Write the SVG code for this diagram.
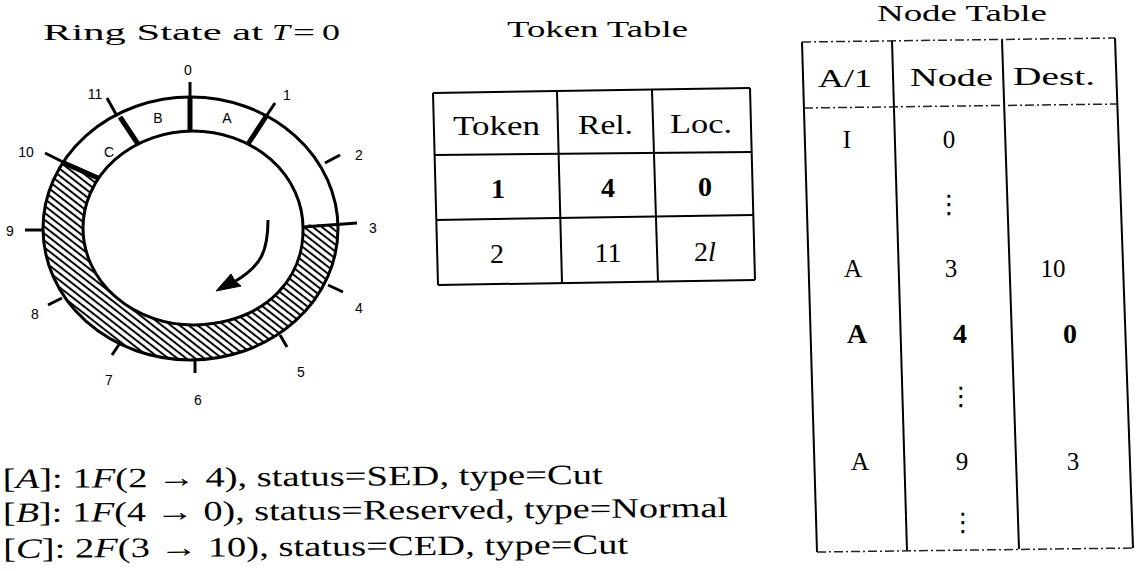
<svg xmlns="http://www.w3.org/2000/svg" width="1142" height="571" viewBox="0 0 1142 571">
<style>
.s{font-family:"Liberation Serif","Times New Roman",serif;fill:#000}
.lbl{font-family:"Liberation Sans",Arial,sans-serif;font-size:14px;fill:#000;text-anchor:middle}
.ring{fill:none;stroke:#000;stroke-width:3}
.tk{stroke:#000;stroke-width:3;stroke-linecap:butt}
.tkb{stroke:#000;stroke-width:5;stroke-linecap:butt}
.tl{stroke:#000;stroke-width:2;fill:none}
.dl{stroke:#222;stroke-width:1.5;stroke-dasharray:9 3 2 3;fill:none}
.c{text-anchor:middle}
.dots{font-family:"DejaVu Serif","DejaVu Sans",serif;font-size:26px;text-anchor:middle;fill:#000}
</style>
<defs>
<pattern id="hatch" patternUnits="userSpaceOnUse" width="7" height="5.5" patternTransform="rotate(38)">
<line x1="0" y1="2.75" x2="7" y2="2.75" stroke="#000" stroke-width="2"/>
</pattern>
<clipPath id="wedge">
<polygon points="200,225 420,224 420,600 -60,600 -60,106"/>
</clipPath>
</defs>
<rect width="1142" height="571" fill="#fff"/>

<g id="titles">
<text class="s" x="43" y="40" font-size="23" textLength="220" lengthAdjust="spacingAndGlyphs">Ring State at</text>
<text class="s" x="272" y="40" font-size="23" font-style="italic" textLength="18" lengthAdjust="spacingAndGlyphs">T</text>
<text class="s" x="293" y="40" font-size="23" textLength="22" lengthAdjust="spacingAndGlyphs">=</text>
<text class="s" x="322" y="40" font-size="23" textLength="18" lengthAdjust="spacingAndGlyphs">0</text>
<text class="s" x="507" y="37" font-size="23" textLength="181" lengthAdjust="spacingAndGlyphs">Token Table</text>
<text class="s" x="877" y="21" font-size="24" textLength="170" lengthAdjust="spacingAndGlyphs">Node Table</text>
</g>

<g id="ring">
<path clip-path="url(#wedge)" fill="url(#hatch)" fill-rule="evenodd" d="M43,228.5 A147.5,131.5 0 1,0 338,228.5 A147.5,131.5 0 1,0 43,228.5 Z M83,228 A110,97 0 0,1 303,228 C304,275 270,322 195,325 A110,97 0 0,1 83,228 Z"/>
<ellipse class="ring" cx="190.5" cy="228.5" rx="147.5" ry="131.5"/>
<path class="ring" d="M83,228 A110,97 0 0,1 303,228 C304,275 270,322 195,325 A110,97 0 0,1 83,228 Z"/>
<!-- ticks -->
<line class="tk" x1="190" y1="82" x2="190" y2="98"/>
<line class="tkb" x1="190" y1="97" x2="190" y2="132"/>
<line class="tk" x1="267" y1="115" x2="275" y2="103"/>
<line class="tkb" x1="248" y1="144" x2="267" y2="115"/>
<line class="tk" x1="107" y1="98" x2="117" y2="116"/>
<line class="tkb" x1="120" y1="117" x2="138" y2="144"/>
<line class="tk" x1="45" y1="153" x2="63" y2="162"/>
<line class="tkb" x1="64" y1="163" x2="98" y2="178"/>
<line class="tk" x1="325" y1="163" x2="340" y2="155"/>
<line class="tk" x1="303" y1="227" x2="357" y2="223"/>
<line class="tk" x1="328" y1="285" x2="343" y2="292"/>
<line class="tk" x1="280" y1="335" x2="287" y2="347"/>
<line class="tk" x1="195" y1="359" x2="195" y2="373"/>
<line class="tk" x1="120" y1="343" x2="112" y2="355"/>
<line class="tk" x1="62" y1="298" x2="48" y2="305"/>
<line class="tk" x1="25" y1="230" x2="44" y2="230"/>
<!-- labels -->
<text class="lbl" x="188" y="75">0</text>
<text class="lbl" x="287" y="100">1</text>
<text class="lbl" x="359" y="160">2</text>
<text class="lbl" x="373" y="233">3</text>
<text class="lbl" x="359" y="313">4</text>
<text class="lbl" x="301" y="377">5</text>
<text class="lbl" x="198" y="405">6</text>
<text class="lbl" x="109" y="385">7</text>
<text class="lbl" x="35" y="319">8</text>
<text class="lbl" x="10" y="236">9</text>
<text class="lbl" x="26" y="157">10</text>
<text class="lbl" x="95" y="99">11</text>
<text class="lbl" x="227" y="123">A</text>
<text class="lbl" x="158" y="123">B</text>
<text class="lbl" x="109" y="157">C</text>
<!-- rotation arrow -->
<path d="M268,220 C268,250 262,266 234,282" fill="none" stroke="#000" stroke-width="3"/>
<polygon points="216,291 231,274 235,281 241,286" fill="#000" stroke="#000" stroke-width="1"/>
</g>

<g id="token-table">
<line class="tl" x1="433" y1="93" x2="438" y2="285"/>
<line class="tl" x1="557" y1="92" x2="562" y2="283"/>
<line class="tl" x1="652" y1="90" x2="658" y2="282"/>
<line class="tl" x1="750" y1="88" x2="755" y2="280"/>
<line class="tl" x1="433" y1="93" x2="750" y2="88"/>
<line class="tl" x1="434" y1="155" x2="752" y2="152"/>
<line class="tl" x1="436" y1="220" x2="753" y2="215"/>
<line class="tl" x1="438" y1="285" x2="755" y2="280"/>
<text class="s" x="453" y="135" font-size="28" textLength="87" lengthAdjust="spacingAndGlyphs">Token</text>
<text class="s" x="578" y="134" font-size="28" textLength="55" lengthAdjust="spacingAndGlyphs">Rel.</text>
<text class="s" x="670" y="133" font-size="28" textLength="62" lengthAdjust="spacingAndGlyphs">Loc.</text>
<text class="s c" x="498" y="198" font-size="28" font-weight="bold">1</text>
<text class="s c" x="608" y="197" font-size="28" font-weight="bold">4</text>
<text class="s c" x="705" y="196" font-size="28" font-weight="bold">0</text>
<text class="s c" x="497" y="263" font-size="28">2</text>
<text class="s c" x="608" y="262" font-size="28">11</text>
<text class="s c" x="705" y="261" font-size="28">2<tspan font-style="italic">l</tspan></text>
</g>

<g id="node-table">
<line class="tl" x1="802" y1="42" x2="817" y2="552"/>
<line class="tl" x1="892" y1="41" x2="907" y2="551"/>
<line class="tl" x1="1002" y1="40" x2="1019" y2="549"/>
<line class="tl" x1="1115" y1="38" x2="1133" y2="548"/>
<line class="dl" x1="802" y1="42" x2="1115" y2="38"/>
<line class="dl" x1="804" y1="108" x2="1117" y2="104"/>
<line class="dl" x1="817" y1="552" x2="1133" y2="548"/>
<text class="s" x="818" y="87" font-size="26" textLength="54" lengthAdjust="spacingAndGlyphs">A/1</text>
<text class="s" x="910" y="86" font-size="26" textLength="83" lengthAdjust="spacingAndGlyphs">Node</text>
<text class="s" x="1013" y="85" font-size="26" textLength="82" lengthAdjust="spacingAndGlyphs">Dest.</text>
<text class="s c" x="847" y="148" font-size="25">I</text>
<text class="s c" x="949" y="148" font-size="25">0</text>
<text class="dots" x="949" y="213">⋮</text>
<text class="s c" x="853" y="277" font-size="25">A</text>
<text class="s c" x="951" y="277" font-size="25">3</text>
<text class="s c" x="1053" y="277" font-size="25">10</text>
<text class="s c" x="857" y="343" font-size="28" font-weight="bold">A</text>
<text class="s c" x="960" y="343" font-size="28" font-weight="bold">4</text>
<text class="s c" x="1070" y="343" font-size="28" font-weight="bold">0</text>
<text class="dots" x="961" y="405">⋮</text>
<text class="s c" x="860" y="470" font-size="25">A</text>
<text class="s c" x="962" y="470" font-size="25">9</text>
<text class="s c" x="1073" y="470" font-size="25">3</text>
<text class="dots" x="963" y="531">⋮</text>
</g>

<g id="legend" transform="rotate(-0.4 3 520)">
<text class="s" x="3" y="488" font-size="28" textLength="600" lengthAdjust="spacingAndGlyphs">[<tspan font-style="italic">A</tspan>]: 1<tspan font-style="italic">F</tspan>(2 → 4), status=SED, type=Cut</text>
<text class="s" x="3" y="522" font-size="28" textLength="725" lengthAdjust="spacingAndGlyphs">[<tspan font-style="italic">B</tspan>]: 1<tspan font-style="italic">F</tspan>(4 → 0), status=Reserved, type=Normal</text>
<text class="s" x="3" y="558" font-size="28" textLength="625" lengthAdjust="spacingAndGlyphs">[<tspan font-style="italic">C</tspan>]: 2<tspan font-style="italic">F</tspan>(3 → 10), status=CED, type=Cut</text>
</g>
</svg>
